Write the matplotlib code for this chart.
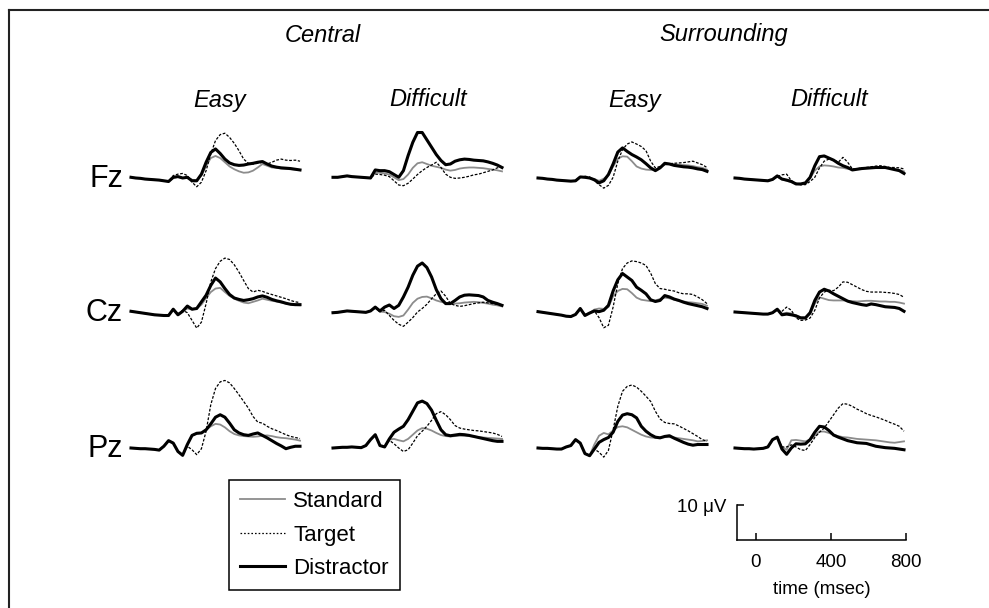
import numpy as np
import matplotlib
matplotlib.use('Agg')
import matplotlib.pyplot as plt
from matplotlib.lines import Line2D

plt.rcParams['font.family'] = ['Liberation Sans', 'DejaVu Sans']

# one sample every 25 ms, -100 .. 800 msec
time_ms = np.arange(-100, 801, 25)

electrodes = ['Fz', 'Cz', 'Pz']
locations = ['Central', 'Surrounding']
difficulties = ['Easy', 'Difficult']
conditions = ['Standard', 'Target', 'Distractor']

# amplitudes in microvolts (positive up)
# --- Fz ---
fz_ce_std = [0.2, 0, -0.1, -0.3, -0.4, -0.5, -0.6, -0.8, -1.0, 0.0, 0.3, 0.0, 0.0, -0.5, -0.6, 0.7, 3.5, 5.7, 6.3, 5.7, 4.5, 3.3, 2.5, 1.9, 1.5, 1.6, 2.1, 3.0, 4.0, 3.5, 3.0, 2.9, 2.7, 2.6, 2.5, 2.4, 2.3]
fz_ce_tgt = [0.2, 0, -0.1, -0.3, -0.4, -0.5, -0.6, -0.8, -1.0, 0.7, 1.1, 1.3, 0.7, -1.2, -2.5, -1.2, 2.1, 6.9, 10.7, 12.4, 12.8, 11.6, 9.9, 7.8, 5.4, 4.2, 4.0, 4.2, 4.5, 4.0, 4.5, 5.1, 5.4, 5.1, 5.0, 5.1, 4.8]
fz_ce_dis = [0.2, 0, -0.1, -0.3, -0.4, -0.5, -0.6, -0.8, -1.0, 0.2, 0.4, 0, 0.2, -0.8, -0.8, 1.1, 4.5, 7.3, 8.3, 7.0, 5.4, 4.3, 3.8, 3.6, 3.7, 4.0, 4.2, 4.5, 4.7, 4.0, 3.4, 3.1, 2.9, 2.8, 2.7, 2.5, 2.3]

fz_cd_std = [0.2, 0.2, 0.4, 0.6, 0.4, 0.3, 0.2, 0.1, 0, 1.6, 1.5, 1.3, 1.0, 0.2, -0.6, -0.3, 1.0, 2.9, 4.2, 4.5, 4.0, 3.5, 3.2, 2.9, 2.4, 2.1, 2.3, 2.7, 2.9, 3.0, 3.0, 2.9, 2.8, 2.6, 2.4, 2.2, 1.9]
fz_cd_tgt = [0.2, 0.2, 0.4, 0.6, 0.4, 0.3, 0.2, 0.1, 0, 1.1, 1.0, 0.8, 0.4, -0.8, -2.0, -2.2, -1.5, -0.3, 1.0, 2.1, 3.0, 3.7, 4.5, 3.0, 1.1, 0.2, -0.1, 0, 0.2, 0.5, 0.9, 1.1, 1.5, 1.9, 2.3, 2.9, 3.2]
fz_cd_dis = [0.2, 0.2, 0.4, 0.6, 0.4, 0.3, 0.2, 0.1, 0, 2.3, 2.1, 2.1, 1.8, 1.0, 0.2, 2.1, 6.4, 10.2, 13.0, 13.0, 10.9, 8.8, 6.7, 5.0, 3.8, 4.0, 4.8, 5.2, 5.4, 5.3, 5.1, 5.0, 4.9, 4.6, 4.2, 3.7, 3.0]

fz_se_std = [0, -0.1, -0.3, -0.4, -0.6, -0.7, -0.8, -0.9, -0.8, 0.3, 0.2, 0, -0.3, -0.8, -0.2, 0.8, 3.3, 5.5, 6.2, 6.1, 4.8, 3.3, 2.7, 2.4, 2.3, 2.4, 2.9, 3.8, 4.0, 3.9, 3.8, 3.7, 3.6, 3.4, 3.1, 2.9, 2.4]
fz_se_tgt = [0, -0.1, -0.3, -0.4, -0.6, -0.7, -0.8, -0.9, -0.8, 0.2, 0.5, 0.3, -0.8, -1.9, -2.9, -2.1, 0.2, 4.8, 8.1, 9.7, 10.3, 9.7, 9.0, 7.8, 4.8, 2.9, 3.3, 3.8, 4.1, 4.2, 4.3, 4.4, 4.6, 4.8, 4.3, 3.8, 3.0]
fz_se_dis = [0, -0.1, -0.3, -0.4, -0.6, -0.7, -0.8, -0.9, -0.8, 0.3, 0.2, 0, -0.5, -1.4, -0.8, 1.0, 4.0, 7.4, 8.6, 7.6, 6.7, 6.0, 5.2, 4.1, 2.9, 2.1, 2.9, 4.2, 4.0, 3.6, 3.4, 3.2, 3.1, 2.9, 2.6, 2.4, 1.9]

fz_sd_std = [0, -0.1, -0.3, -0.4, -0.5, -0.6, -0.7, -0.8, -0.5, 0.4, -0.4, -0.8, -1.2, -1.7, -1.9, -1.5, 0, 2.1, 3.3, 3.6, 3.5, 3.3, 3.0, 2.9, 2.6, 2.4, 2.6, 2.8, 2.9, 2.9, 3.0, 3.0, 3.0, 2.8, 2.5, 2.3, 1.9]
fz_sd_tgt = [0, -0.1, -0.3, -0.4, -0.5, -0.6, -0.7, -0.8, -0.4, 0.4, 0.9, 1.1, -0.8, -1.5, -1.9, -1.9, -1.0, 0.2, 2.9, 4.8, 5.4, 5.2, 4.5, 5.9, 4.5, 2.6, 2.6, 2.9, 3.0, 3.2, 3.4, 3.5, 3.3, 3.0, 3.0, 2.9, 2.6]
fz_sd_dis = [0, -0.1, -0.3, -0.4, -0.5, -0.6, -0.7, -0.8, -0.4, 0.6, -0.3, -0.6, -1.0, -1.7, -1.7, -1.4, 0.2, 3.5, 6.1, 6.3, 5.7, 5.1, 4.2, 3.5, 3.0, 2.3, 2.5, 2.7, 2.8, 2.9, 3.0, 3.0, 3.0, 2.7, 2.4, 2.1, 1.3]

# --- Cz ---
cz_ce_std = [0.2, 0, -0.2, -0.4, -0.6, -0.8, -0.9, -1.0, -1.0, 0.8, -0.6, 0.2, 1.0, 0.7, 1.0, 2.1, 4.0, 5.7, 6.7, 6.9, 5.7, 4.6, 3.8, 3.2, 2.7, 2.5, 2.9, 3.3, 3.8, 3.5, 3.2, 3.0, 2.7, 2.4, 2.2, 2.0, 1.9]
cz_ce_tgt = [0.2, 0, -0.2, -0.4, -0.6, -0.8, -0.9, -1.0, -1.0, 0.8, -0.6, 0.5, -0.2, -2.4, -4.6, -2.9, 2.4, 8.6, 12.4, 14.5, 15.4, 15.0, 13.5, 11.4, 9.0, 6.7, 5.7, 6.2, 5.9, 5.4, 5.0, 4.6, 4.2, 3.8, 3.3, 2.9, 2.7]
cz_ce_dis = [0.2, 0, -0.2, -0.4, -0.6, -0.8, -0.9, -1.0, -1.0, 0.8, -0.8, 0.2, 1.7, 0.8, 1.0, 2.9, 4.8, 7.6, 9.7, 8.6, 6.7, 5.0, 4.0, 3.6, 3.3, 3.5, 3.8, 4.3, 4.6, 4.2, 3.6, 3.2, 2.9, 2.5, 2.2, 2.1, 2.1]

cz_cd_std = [-0.2, -0.1, 0.1, 0.3, 0.2, 0.1, 0, -0.1, 0.3, 1.2, 0.1, 0, -0.5, -1.2, -1.4, -1.0, 0.7, 2.6, 3.8, 4.3, 4.4, 3.9, 3.3, 2.9, 2.6, 2.4, 2.4, 2.5, 2.7, 2.8, 2.9, 2.8, 2.6, 2.4, 2.1, 1.9, 1.6]
cz_cd_tgt = [-0.2, -0.1, 0.1, 0.3, 0.2, 0.1, 0, -0.1, 0.3, 1.2, 0.1, 0.5, -1.0, -2.4, -3.5, -4.1, -2.9, -1.6, 0, 1.0, 2.2, 3.8, 5.2, 6.0, 4.5, 2.4, 1.9, 1.6, 1.8, 2.1, 2.4, 2.6, 2.8, 2.6, 2.4, 2.2, 1.9]
cz_cd_dis = [-0.2, -0.1, 0.1, 0.3, 0.2, 0.1, 0, -0.1, 0.3, 1.4, 0.3, 1.4, 2.0, 1.0, 1.9, 4.3, 7.1, 10.5, 13.1, 14.0, 12.7, 10.0, 6.4, 3.8, 2.4, 2.4, 3.3, 4.3, 4.8, 4.9, 4.8, 4.7, 4.3, 3.3, 2.8, 2.4, 1.9]

cz_se_std = [0.1, -0.1, -0.3, -0.5, -0.7, -0.9, -1.2, -1.3, -0.7, 1.0, -0.8, -0.3, 0.7, 1.0, 0.9, 1.4, 4.5, 6.0, 6.6, 6.5, 5.4, 4.1, 3.5, 3.3, 3.1, 3.3, 3.7, 4.1, 3.9, 3.5, 3.2, 3.0, 2.8, 2.7, 2.5, 2.3, 1.8]
cz_se_tgt = [0.1, -0.1, -0.3, -0.5, -0.7, -0.9, -1.2, -1.3, -0.7, 1.0, -0.8, -0.3, 0.3, -1.6, -4.5, -3.8, 1.4, 8.1, 12.4, 14.0, 14.6, 14.4, 14.0, 13.3, 11.1, 8.1, 6.7, 6.5, 6.2, 6.0, 5.5, 5.2, 5.2, 5.0, 4.3, 3.5, 2.4]
cz_se_dis = [0.1, -0.1, -0.3, -0.5, -0.7, -0.9, -1.2, -1.3, -0.7, 1.0, -1.0, -0.3, 0.3, 0.1, 0.5, 1.9, 6.0, 9.2, 11.0, 10.0, 9.0, 7.1, 6.2, 5.2, 3.5, 3.0, 3.3, 4.7, 4.3, 3.7, 3.3, 2.8, 2.4, 2.1, 1.8, 1.5, 1.0]

cz_sd_std = [0, -0.1, -0.2, -0.3, -0.4, -0.5, -0.6, -0.6, -0.3, 0.7, -0.5, -0.2, -0.4, -1.0, -1.5, -1.5, -0.6, 2.4, 4.2, 3.8, 3.4, 3.3, 3.3, 3.3, 3.2, 3.1, 3.0, 3.1, 3.2, 3.2, 3.1, 3.0, 3.0, 2.9, 2.9, 2.7, 2.4]
cz_sd_tgt = [0, -0.1, -0.2, -0.3, -0.4, -0.5, -0.6, -0.6, -0.3, 0.6, 0.2, 1.4, 0.5, -1.7, -2.4, -2.3, -1.7, 0.5, 4.0, 5.7, 6.2, 6.1, 7.1, 8.6, 8.5, 7.8, 7.1, 6.4, 5.9, 5.7, 5.7, 5.7, 5.6, 5.5, 5.3, 5.0, 4.2]
cz_sd_dis = [0, -0.1, -0.2, -0.3, -0.4, -0.5, -0.6, -0.6, -0.2, 0.8, -0.8, -0.6, -0.8, -1.1, -1.7, -1.7, -0.2, 3.3, 5.7, 6.5, 6.0, 5.2, 4.5, 3.8, 3.1, 2.7, 2.4, 2.1, 1.9, 2.3, 2.1, 1.8, 1.5, 1.4, 1.3, 1.0, 0.2]

# --- Pz ---
pz_ce_std = [0, -0.1, -0.2, -0.2, -0.3, -0.4, -0.6, 0.5, 2.1, 1.4, -1.0, -2.1, 0.8, 3.6, 4.1, 4.3, 5.2, 6.2, 6.9, 6.7, 5.9, 4.8, 4.0, 3.6, 3.4, 3.3, 3.2, 3.3, 3.5, 3.6, 3.4, 3.1, 2.9, 2.8, 2.6, 2.4, 2.1]
pz_ce_tgt = [0, -0.1, -0.2, -0.2, -0.3, -0.4, -0.6, 0.5, 2.1, 1.4, -1.0, -2.1, 0.5, -0.5, -1.9, -0.2, 4.8, 12.4, 17.0, 18.9, 19.3, 18.6, 17.0, 15.2, 13.3, 11.4, 9.0, 7.4, 7.1, 6.2, 5.5, 5.0, 4.4, 3.8, 3.3, 3.0, 2.7]
pz_ce_dis = [0, -0.1, -0.2, -0.2, -0.3, -0.4, -0.6, 0.5, 2.1, 1.4, -1.0, -2.1, 1.0, 3.6, 4.2, 4.3, 5.2, 6.9, 8.8, 9.5, 8.8, 7.1, 5.2, 4.3, 3.8, 3.6, 4.0, 4.3, 3.6, 2.9, 2.1, 1.3, 0.6, -0.2, 0.2, 0.5, 0.5]

pz_cd_std = [0, 0.1, 0.2, 0.2, 0.3, 0.2, 0.1, 0.7, 2.4, 3.8, 0.7, 0.3, 2.4, 2.6, 2.2, 1.9, 2.6, 3.8, 5.0, 5.7, 5.5, 5.0, 4.3, 3.7, 3.4, 3.3, 3.4, 3.5, 3.5, 3.4, 3.3, 3.1, 3.0, 2.9, 2.8, 2.7, 2.6]
pz_cd_tgt = [0, 0.1, 0.2, 0.2, 0.3, 0.2, 0.1, 0.7, 2.4, 3.8, 0.7, 0.3, 2.2, 1.2, 0, -1.0, -0.5, 1.4, 3.5, 4.8, 6.2, 7.9, 9.8, 10.4, 9.5, 8.1, 6.4, 5.7, 5.4, 5.2, 5.0, 4.9, 4.7, 4.5, 4.3, 3.9, 3.3]
pz_cd_dis = [0, 0.1, 0.2, 0.2, 0.3, 0.2, 0.1, 0.7, 2.4, 3.8, 0.7, 0.3, 2.6, 4.5, 5.4, 6.2, 8.1, 10.5, 12.9, 13.4, 12.7, 10.8, 7.9, 5.2, 3.8, 3.5, 3.7, 3.9, 3.8, 3.6, 3.3, 3.0, 2.7, 2.4, 2.1, 1.9, 1.9]

pz_se_std = [0, -0.1, -0.1, -0.2, -0.3, -0.3, 0.3, 0.7, 2.4, 1.4, -1.6, -2.2, 1.0, 3.5, 4.3, 3.9, 5.0, 6.0, 6.2, 5.9, 5.2, 4.5, 3.8, 3.3, 3.0, 2.9, 3.0, 3.1, 3.1, 3.0, 2.8, 2.6, 2.4, 2.2, 1.9, 2.0, 2.2]
pz_se_tgt = [0, -0.1, -0.1, -0.2, -0.3, -0.3, 0.3, 0.7, 2.4, 1.4, -1.6, -2.2, -0.3, -1.2, -2.6, -0.7, 5.2, 11.9, 16.2, 17.6, 18.0, 17.4, 16.2, 14.8, 13.3, 10.5, 8.3, 7.3, 7.0, 6.9, 6.3, 5.6, 4.9, 4.1, 3.3, 2.4, 1.9]
pz_se_dis = [0, -0.1, -0.1, -0.2, -0.3, -0.3, 0.3, 0.7, 2.4, 1.4, -1.6, -2.2, -0.3, 1.6, 2.4, 3.0, 4.5, 7.6, 9.4, 9.8, 9.5, 8.6, 6.2, 4.8, 3.8, 3.1, 2.9, 3.3, 3.5, 2.8, 2.2, 1.6, 1.1, 0.8, 1.0, 1.0, 1.0]

pz_sd_std = [0, -0.1, -0.2, -0.2, -0.3, -0.2, -0.1, 0.3, 2.2, 3.0, 0.3, -0.5, 2.2, 2.3, 2.1, 1.9, 2.4, 3.5, 4.7, 4.7, 4.3, 3.8, 3.4, 3.1, 3.0, 2.8, 2.6, 2.5, 2.4, 2.3, 2.2, 2.0, 1.8, 1.6, 1.5, 1.7, 1.9]
pz_sd_tgt = [0, -0.1, -0.2, -0.2, -0.3, -0.2, -0.1, 0.3, 2.2, 3.0, 0.3, 0.3, 0.9, 0.3, -0.5, -0.7, 1.0, 3.0, 4.5, 5.7, 7.6, 9.5, 11.4, 12.7, 12.5, 11.9, 11.1, 10.5, 9.8, 9.3, 8.9, 8.4, 7.9, 7.3, 6.8, 6.2, 4.8]
pz_sd_dis = [0, -0.1, -0.2, -0.2, -0.3, -0.2, -0.1, 0.3, 2.4, 3.1, -0.3, -1.8, 0, 1.2, 1.1, 1.2, 2.4, 4.5, 6.2, 6.0, 5.0, 3.7, 3.1, 2.6, 2.1, 1.8, 1.5, 1.4, 1.3, 0.9, 0.5, 0.3, 0.1, 0, -0.1, -0.3, -0.5]

# rows = electrodes, columns = central easy/difficult, surrounding easy/difficult
panels = [
    [(fz_ce_std, fz_ce_tgt, fz_ce_dis), (fz_cd_std, fz_cd_tgt, fz_cd_dis),
     (fz_se_std, fz_se_tgt, fz_se_dis), (fz_sd_std, fz_sd_tgt, fz_sd_dis)],
    [(cz_ce_std, cz_ce_tgt, cz_ce_dis), (cz_cd_std, cz_cd_tgt, cz_cd_dis),
     (cz_se_std, cz_se_tgt, cz_se_dis), (cz_sd_std, cz_sd_tgt, cz_sd_dis)],
    [(pz_ce_std, pz_ce_tgt, pz_ce_dis), (pz_cd_std, pz_cd_tgt, pz_cd_dis),
     (pz_se_std, pz_se_tgt, pz_se_dis), (pz_sd_std, pz_sd_tgt, pz_sd_dis)],
]

styles = [
    dict(color='#8c8c8c', lw=1.3, ls='-'),
    dict(color='black', lw=0.9, ls=(0, (2.2, 1.3))),
    dict(color='black', lw=2.2, ls='-'),
]

# layout in pixels
W, H = 989, 608
col_left = [131, 333, 538, 735]
row_base = [178, 312, 448]
panel_w = 169
px_uv = 3.5
ylo, yhi = -8, 22

fig = plt.figure(figsize=(W / 100, H / 100), dpi=100)


def px_axes(left, top, width, height):
    return fig.add_axes([left / W, 1 - (top + height) / H, width / W, height / H])


handles = []
for r, row in enumerate(panels):
    for c, series in enumerate(row):
        top = row_base[r] - yhi * px_uv
        ax = px_axes(col_left[c], top, panel_w, (yhi - ylo) * px_uv)
        ax.set_xlim(-100, 800)
        ax.set_ylim(ylo, yhi)
        ax.axis('off')
        ax.patch.set_visible(False)
        for vals, st, name in zip(series, styles, conditions):
            ln, = ax.plot(time_ms, vals, label=name, clip_on=False, **st)
            if r == 0 and c == 0:
                handles.append(ln)

# row labels
for r, name in enumerate(electrodes):
    fig.text(123 / W, 1 - (row_base[r] + 1) / H, name, fontsize=22,
             ha='right', va='center')

# column titles
for x, name in zip([323, 724], locations):
    fig.text(x / W, 1 - 35 / H, name, fontsize=17, style='italic',
             ha='center', va='center')
for x, name in zip([220, 428, 635, 829], difficulties * 2):
    fig.text(x / W, 1 - 100 / H, name, fontsize=17, style='italic',
             ha='center', va='center')

# legend
leg = fig.legend(handles=handles, loc='upper left',
                 bbox_to_anchor=(229 / W, 1 - 480 / H), borderaxespad=0,
                 fontsize=16, fancybox=False, framealpha=1, edgecolor='black',
                 handlelength=2.0, handletextpad=0.4, borderpad=0.5,
                 labelspacing=0.56)
leg.get_frame().set_linewidth(1.1)
leg.legend_handles[1].set_linestyle((0, (1.3, 1.6)))

# scale bar
sb = px_axes(737, 505, panel_w, 35)
sb.set_xlim(-100, 800)
sb.set_ylim(0, 10)
sb.patch.set_visible(False)
for s in ['top', 'right']:
    sb.spines[s].set_visible(False)
for s in ['left', 'bottom']:
    sb.spines[s].set_linewidth(1.1)
sb.set_xticks([0, 400, 800])
sb.set_yticks([10])
sb.set_yticklabels(['10 \u03bcV'])
sb.tick_params(direction='in', length=5, width=1.1, labelsize=13.5)
sb.tick_params(axis='x', pad=10)
sb.tick_params(axis='y', pad=8)
sb.set_xlabel('time (msec)', fontsize=13.5, labelpad=7)

# figure frame (top and left edges only)
fig.add_artist(Line2D([9 / W, 9 / W], [0, 1 - 10 / H], color='#222222', lw=1.5))
fig.add_artist(Line2D([9 / W, 1], [1 - 10 / H, 1 - 10 / H], color='#222222', lw=1.5))

fig.savefig('out.png', dpi=100)
